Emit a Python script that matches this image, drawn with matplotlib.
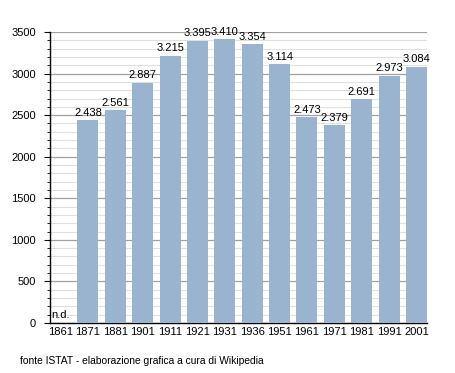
import numpy as np
import matplotlib.pyplot as plt
from matplotlib.ticker import MultipleLocator

plt.rcParams['font.family'] = ['Liberation Sans', 'DejaVu Sans']

years = ['1861', '1871', '1881', '1901', '1911', '1921', '1931',
         '1936', '1951', '1961', '1971', '1981', '1991', '2001']
pop = [0, 2438, 2561, 2887, 3215, 3395, 3410,
       3354, 3114, 2473, 2379, 2691, 2973, 3084]
labels = ['n.d.', '2.438', '2.561', '2.887', '3.215', '3.395', '3.410',
          '3.354', '3.114', '2.473', '2.379', '2.691', '2.973', '3.084']

fig = plt.figure(figsize=(4.55, 3.73), dpi=100)
ax = fig.add_axes([50/455, 1-323/373, 377/455, 291/373])

x = np.arange(len(years))
bw = 0.77
ax.bar(x, pop, width=bw, color='#9ab3cf', zorder=3)

for i, (v, lab) in enumerate(zip(pop, labels)):
  if lab == 'n.d.':
    ax.text(i - 0.33, 40, lab, ha='left', va='bottom', fontsize=8)
  else:
    ax.text(i, v + 30, lab, ha='center', va='bottom', fontsize=8)

ax.set_xlim(-bw/2, len(years) - 1 + bw/2)
ax.set_ylim(0, 3500)
ax.set_xticks(x)
ax.set_xticklabels(years, fontsize=8)
ax.yaxis.set_major_locator(MultipleLocator(500))
ax.yaxis.set_minor_locator(MultipleLocator(100))
ax.tick_params(axis='y', which='major', length=4, labelsize=8, pad=6)
ax.tick_params(axis='y', which='minor', length=2.5)
ax.tick_params(axis='x', length=0, pad=3)
ax.grid(axis='y', which='major', color='#a0a0a0', linewidth=0.9, zorder=1)
ax.grid(axis='y', which='minor', color='#e0e0e0', linewidth=0.8, zorder=0)
for s in ['top', 'right']:
  ax.spines[s].set_visible(False)
ax.spines['left'].set_linewidth(1)
ax.spines['bottom'].set_linewidth(1)

fig.text(20/455, 1-361/373, 'fonte ISTAT - elaborazione grafica a cura di Wikipedia',
         fontsize=7.4, va='center', ha='left')

fig.savefig('out.png', dpi=100)
